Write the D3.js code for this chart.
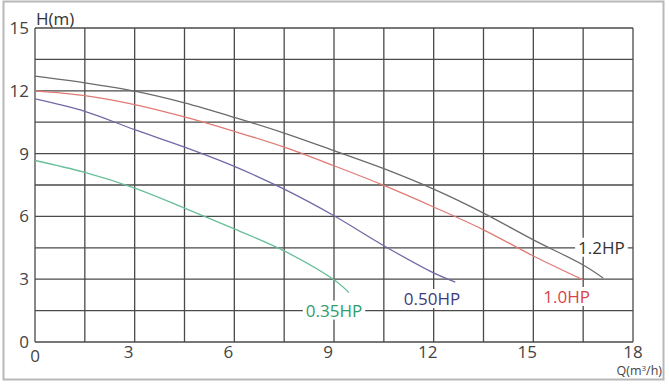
<!DOCTYPE html>
<html>
<head>
<meta charset="utf-8">
<script src="https://cdn.jsdelivr.net/npm/d3@7"></script>
<style>
  body { margin: 0; background: #fff; }
  text { font-family: "Open Sans", "Noto Sans", sans-serif; }
</style>
</head>
<body>
<svg id="pump_chart"></svg>
<script>
// pump curves
const q12 = [0, 1.5, 3, 4.5, 6, 7.5, 9, 10.5, 12, 13.5, 15, 16.5, 17.1];
const h12 = [12.7, 12.38, 11.98, 11.42, 10.73, 9.98, 9.14, 8.28, 7.3, 6.16, 4.88, 3.68, 3.06];
const q10 = [0, 1.5, 3, 4.5, 6, 7.5, 9, 10.5, 12, 13.5, 15, 16.5];
const h10 = [12.0, 11.77, 11.34, 10.75, 10.06, 9.31, 8.42, 7.48, 6.45, 5.36, 4.11, 2.97];
const q050 = [0, 1.5, 3, 4.5, 6, 7.5, 9, 10.5, 12, 12.65];
const h050 = [11.61, 11.02, 10.14, 9.31, 8.39, 7.3, 6.03, 4.6, 3.3, 2.86];
const q035 = [0, 1.5, 3, 4.5, 6, 7.5, 9, 9.45];
const h035 = [8.67, 8.1, 7.35, 6.4, 5.4, 4.35, 2.97, 2.36];

const xTicks = [0, 3, 6, 9, 12, 15, 18];
const yTicks = [0, 3, 6, 9, 12, 15];
const gridStep = 1.5;

const seriesNames = ["1.2HP", "1.0HP", "0.50HP", "0.35HP"];
const lineColors = ["#6b6b6b", "#e07a74", "#6f6aa6", "#68bf98"];
const labelColors = ["#333333", "#d9454a", "#3f3a7c", "#2f9c6c"];
// label anchor in data units (Q, H)
const labelQ = [17.05, 16.0, 11.95, 9.0];
const labelH = [4.5, 2.15, 2.05, 1.5];

const svgWidth = 669;
const svgHeight = 385;
const plot = { left: 35, right: 633, top: 28, bottom: 342 };

let svg = d3.select("#pump_chart")
    .attr("width", svgWidth)
    .attr("height", svgHeight);

// outer frame
svg.append("rect")
    .attr("x", 3.5).attr("y", 1.5)
    .attr("width", 660).attr("height", 378)
    .attr("fill", "none")
    .attr("stroke", "#b8b8b8")
    .attr("stroke-width", 2);

let scaleX = d3.scaleLinear().domain([0, 18]).range([plot.left, plot.right]);
let scaleY = d3.scaleLinear().domain([0, 15]).range([plot.bottom, plot.top]);

// grid every 1.5
let grid = svg.append("g")
    .attr("stroke", "#4a4a4a")
    .attr("stroke-width", 1.3);
grid.selectAll("line.v")
    .data(d3.range(0, 18 + 0.01, gridStep))
    .enter().append("line")
    .attr("x1", d => scaleX(d)).attr("x2", d => scaleX(d))
    .attr("y1", plot.top).attr("y2", plot.bottom);
grid.selectAll("line.h")
    .data(d3.range(0, 15 + 0.01, gridStep))
    .enter().append("line")
    .attr("y1", d => scaleY(d)).attr("y2", d => scaleY(d))
    .attr("x1", plot.left).attr("x2", plot.right);

// tick labels
svg.append("g").selectAll("text")
    .data(yTicks)
    .enter().append("text")
    .attr("x", 29)
    .attr("y", d => scaleY(d))
    .attr("dy", "0.35em")
    .attr("text-anchor", "end")
    .attr("font-size", 17)
    .attr("fill", "#444")
    .text(d => d);

svg.append("g").selectAll("text")
    .data(xTicks)
    .enter().append("text")
    .attr("x", d => scaleX(d) - (d == 0 || d == 18 ? 0 : 6))
    .attr("y", d => d == 0 ? 362 : 358)
    .attr("text-anchor", "middle")
    .attr("font-size", 17)
    .attr("fill", "#444")
    .text(d => d);

svg.append("text")
    .attr("x", 36).attr("y", 25)
    .attr("font-size", 17)
    .attr("fill", "#333")
    .text("H(m)");

let qLabel = svg.append("text")
    .attr("x", 662).attr("y", 375)
    .attr("text-anchor", "end")
    .attr("font-size", 12.5)
    .attr("fill", "#444");
qLabel.append("tspan").text("Q(m");
qLabel.append("tspan").attr("font-size", 8).attr("dy", -4).text("3");
qLabel.append("tspan").attr("dy", 4).text("/h)");

// curves
const curveData = [
    d3.zip(q12, h12),
    d3.zip(q10, h10),
    d3.zip(q050, h050),
    d3.zip(q035, h035)
];

let line = d3.line()
    .x(d => scaleX(d[0]))
    .y(d => scaleY(d[1]))
    .curve(d3.curveCatmullRom.alpha(0.5));

svg.append("g").selectAll("path")
    .data(curveData)
    .enter().append("path")
    .attr("d", line)
    .attr("fill", "none")
    .attr("stroke", (d, i) => lineColors[i])
    .attr("stroke-width", 1.3);

// series labels with white backing so grid breaks around them
seriesNames.forEach(function (name, i) {
    let g = svg.append("g");
    let bg = g.append("rect").attr("fill", "#fff");
    let t = g.append("text")
        .attr("x", scaleX(labelQ[i]))
        .attr("y", scaleY(labelH[i]))
        .attr("dy", "0.35em")
        .attr("text-anchor", "middle")
        .attr("font-size", 17)
        .attr("fill", labelColors[i])
        .text(name);
    let bb = t.node().getBBox();
    bg.attr("x", bb.x - 3).attr("y", bb.y + 2)
        .attr("width", bb.width + 6).attr("height", bb.height - 4);
});
</script>
</body>
</html>
